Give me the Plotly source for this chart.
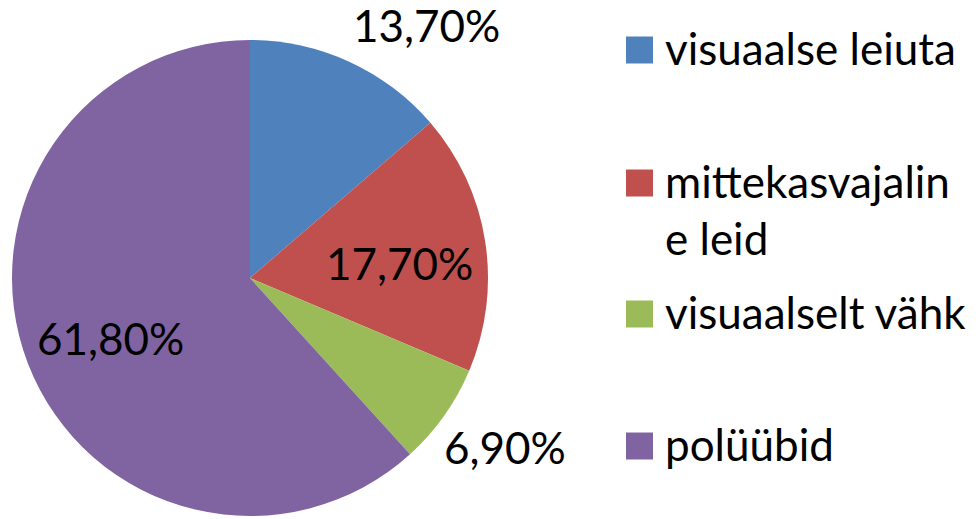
import math
import plotly.graph_objects as go

categories = ["visuaalse leiuta", "mittekasvajaline leid", "visuaalselt vähk", "polüübid"]
legend_labels = ["visuaalse leiuta", "mittekasvajalin<br>e leid", "visuaalselt vähk", "polüübid"]
values = [13.7, 17.7, 6.9, 61.8]
value_text = ["13,70%", "17,70%", "6,90%", "61,80%"]
colors = ["#4F81BD", "#C0504D", "#9BBB59", "#8064A2"]

W, H = 978, 519
FONT = "Lato"
FS = 44

fig = go.Figure()
fig.add_trace(go.Pie(
    labels=categories, values=values, sort=False, direction="clockwise", rotation=0,
    marker=dict(colors=colors, line=dict(width=0)),
    textinfo="none", hoverinfo="label+percent", showlegend=False,
    domain=dict(x=[12 / W, 488 / W], y=[3 / H, 479 / H]),
))

# data labels placed around the pie (centre 250,278 px; radius 238 px)
cx, cy, R = 250, 278, 238
label_pos = [(1.29, 10.5), (0.63, 4.0), (1.29, -1.5), (0.64, -3.0)]  # radius factor, angle tweak
cum = 0
total = sum(values)
for v, t, (rf, tweak) in zip(values, value_text, label_pos):
    mid = (cum + v / 2) / total * 360 + tweak
    cum += v
    a = math.radians(mid)
    px = cx + rf * R * math.sin(a)
    py = cy - rf * R * math.cos(a) - 2
    fig.add_annotation(x=px / W, y=1 - py / H, xref="paper", yref="paper",
                       text=t, showarrow=False, xanchor="center", yanchor="middle",
                       font=dict(family=FONT, size=FS, color="#000000"))

# legend
leg_y = [50, 183, 314, 446]
for lab, col, y in zip(legend_labels, colors, leg_y):
    fig.add_shape(type="rect", xref="paper", yref="paper",
                  x0=626 / W, x1=653 / W, y0=1 - (y + 13.5) / H, y1=1 - (y - 13.5) / H,
                  fillcolor=col, line=dict(width=0))
    fig.add_annotation(x=663 / W, y=1 - (y - 30) / H, xref="paper", yref="paper",
                       text=lab, showarrow=False, xanchor="left", yanchor="top", align="left",
                       font=dict(family=FONT, size=FS, color="#000000"))

fig.update_layout(width=W, height=H, margin=dict(l=0, r=0, t=0, b=0),
                  paper_bgcolor="white", plot_bgcolor="white")
fig.write_html("out.html", config={"displayModeBar": False},
               post_script="document.body.style.margin='0';document.body.style.overflow='hidden';")
